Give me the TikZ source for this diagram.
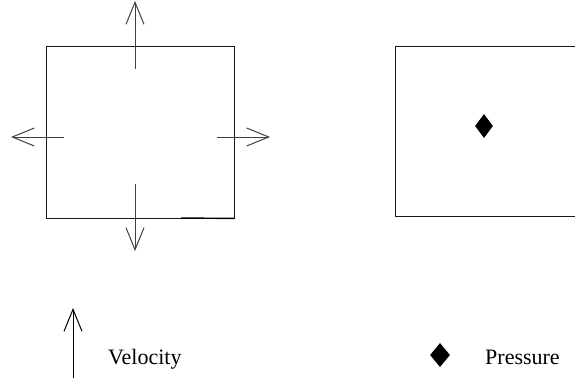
\documentclass[tikz,border=0pt]{standalone}
\usepackage{fontspec}
\setmainfont{Liberation Serif}
\usetikzlibrary{positioning,arrows.meta,shapes.geometric}

\begin{document}
\begin{tikzpicture}[
  x=1pt, y=-1pt, font=\fontsize{22}{25}\selectfont,
  >={Straight Barb[length=22pt,width=18pt]},
  cell/.style={draw=black!90, line width=0.9pt, inner sep=0pt},
  vel/.style={->, draw=black!75, line width=1pt},
  pres/.style={diamond, fill=black, draw=none, inner sep=0pt,
               minimum width=18pt, minimum height=24pt},
  label/.style={anchor=west, inner sep=0pt}]
\useasboundingbox (0,0) rectangle (575,386);

% velocity cell
\node (ucell) [cell, minimum width=188pt, minimum height=172pt] at (140,132) {};
\coordinate (un0) at (135,69);   \coordinate (un1) at (135,1);
\coordinate (uw0) at (64,137);   \coordinate (uw1) at (11,137);
\coordinate (ue0) at (217,137);  \coordinate (ue1) at (270,137);
\coordinate (us0) at (135,184);  \coordinate (us1) at (135,251);
\foreach \a/\b in {un0/un1, uw0/uw1, ue0/ue1, us0/us1} \draw[vel] (\a) -- (\b);
\draw[line width=1.4pt] (181,218) -- (ucell.south east);

% pressure cell
\node (pcell) [cell, minimum width=182pt, minimum height=170pt] at (486,131) {};
\node (pdot) [pres] at (484,126) {};

% legend
\coordinate (lv0) at (73,378);  \coordinate (lv1) at (73,308);
\draw[vel, draw=black] (lv0) -- (lv1);
\node (vtext) [label] at (108,359) {Velocity};
\node (ldot) [pres, minimum width=20pt, minimum height=24pt] at (440,355) {};
\node (ptext) [label] at (485,357) {Pressure};
\end{tikzpicture}
\end{document}
